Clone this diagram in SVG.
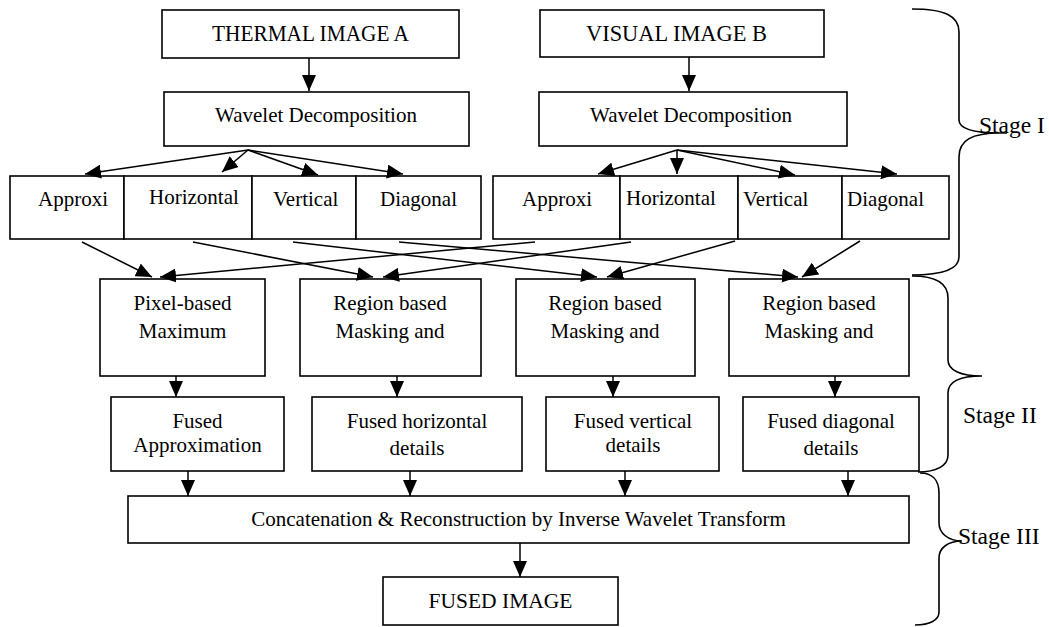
<svg xmlns="http://www.w3.org/2000/svg" width="1049" height="627" viewBox="0 0 1049 627">
<style>
rect{fill:#fff;stroke:#000;stroke-width:1.6}
text{font-family:"Liberation Serif","Times New Roman",serif;font-size:21px;fill:#000}
.c{text-anchor:middle}
.big{font-size:23px}
.st{font-size:23.5px}
.cn line{stroke:#000;stroke-width:1.5;marker-end:url(#ah)}
.br path{fill:none;stroke:#000;stroke-width:1.6}
</style>
<defs>
<marker id="ah" markerUnits="userSpaceOnUse" markerWidth="16" markerHeight="14" refX="16" refY="7" orient="auto"><path d="M0,0 L16,7 L0,14 z" fill="#000"/></marker>
</defs>
<rect x="0" y="0" width="1049" height="627" style="stroke:none"/>
<g id="thermal"><rect x="162" y="10" width="297" height="48"/><text class="big" x="212" y="41" textLength="197" lengthAdjust="spacingAndGlyphs">THERMAL IMAGE A</text></g>
<g id="visual"><rect x="540" y="10" width="284" height="47"/><text class="big" x="586" y="41" textLength="181" lengthAdjust="spacingAndGlyphs">VISUAL IMAGE B</text></g>
<g id="waveA"><rect x="164" y="92" width="305" height="54"/><text class="c" x="316" y="122">Wavelet Decomposition</text></g>
<g id="waveB"><rect x="539" y="92" width="308" height="54"/><text class="c" x="691" y="122">Wavelet Decomposition</text></g>
<g id="approxA"><rect x="10" y="176" width="114" height="63"/><text x="38" y="206">Approxi</text></g>
<g id="horizA"><rect x="124" y="176" width="128" height="63"/><text x="149" y="204">Horizontal</text></g>
<g id="vertA"><rect x="252" y="176" width="104" height="63"/><text x="273" y="206">Vertical</text></g>
<g id="diagA"><rect x="356" y="176" width="125" height="63"/><text x="380" y="206">Diagonal</text></g>
<g id="approxB"><rect x="493" y="176" width="127" height="63"/><text x="522" y="206">Approxi</text></g>
<g id="horizB"><rect x="620" y="176" width="118" height="63"/><text x="626" y="205">Horizontal</text></g>
<g id="vertB"><rect x="738" y="176" width="104" height="63"/><text x="743" y="206">Vertical</text></g>
<g id="diagB"><rect x="842" y="176" width="107" height="63"/><text x="847" y="206">Diagonal</text></g>
<g id="pixel"><rect x="100" y="279" width="165" height="97"/><text class="c" x="182.5" y="310">Pixel-based</text><text class="c" x="182.5" y="338">Maximum</text></g>
<g id="region1"><rect x="300" y="279" width="181" height="97"/><text class="c" x="390" y="310">Region based</text><text class="c" x="390" y="338">Masking and</text></g>
<g id="region2"><rect x="516" y="279" width="179" height="97"/><text class="c" x="605" y="310">Region based</text><text class="c" x="605" y="338">Masking and</text></g>
<g id="region3"><rect x="729" y="279" width="180" height="97"/><text class="c" x="819" y="310">Region based</text><text class="c" x="819" y="338">Masking and</text></g>
<g id="fusedA"><rect x="111" y="397" width="173" height="74"/><text class="c" x="197.5" y="428">Fused</text><text class="c" x="197.5" y="452">Approximation</text></g>
<g id="fusedH"><rect x="312" y="397" width="210" height="74"/><text class="c" x="417" y="428">Fused horizontal</text><text class="c" x="417" y="455">details</text></g>
<g id="fusedV"><rect x="546" y="397" width="173" height="74"/><text class="c" x="633" y="428">Fused vertical</text><text class="c" x="633" y="452">details</text></g>
<g id="fusedD"><rect x="743" y="397" width="176" height="74"/><text class="c" x="831" y="428">Fused diagonal</text><text class="c" x="831" y="455">details</text></g>
<g id="concat"><rect x="128" y="496" width="781" height="47"/><text class="c" x="518.5" y="526">Concatenation &amp; Reconstruction by Inverse Wavelet Transform</text></g>
<g id="fused"><rect x="383" y="577" width="235" height="48"/><text class="c" x="500.5" y="608" style="font-size:21.5px">FUSED IMAGE</text></g>
<g id="connectors" class="cn">
<line x1="309" y1="58" x2="309" y2="91"/>
<line x1="689" y1="57" x2="689" y2="91"/>
<line x1="248" y1="150" x2="85" y2="174"/>
<line x1="248" y1="150" x2="222" y2="172"/>
<line x1="248" y1="150" x2="318" y2="175"/>
<line x1="248" y1="150" x2="403" y2="174"/>
<line x1="677" y1="150" x2="598" y2="174"/>
<line x1="677" y1="150" x2="677" y2="174"/>
<line x1="677" y1="150" x2="795" y2="175"/>
<line x1="677" y1="150" x2="897" y2="174"/>
<line x1="82" y1="242" x2="152" y2="277"/>
<line x1="535" y1="242" x2="160" y2="277"/>
<line x1="193" y1="242" x2="373" y2="277"/>
<line x1="631" y1="242" x2="383" y2="277"/>
<line x1="293" y1="242" x2="597" y2="277"/>
<line x1="735" y1="241" x2="607" y2="277"/>
<line x1="399" y1="242" x2="798" y2="277"/>
<line x1="860" y1="241" x2="802" y2="277"/>
<line x1="176" y1="376" x2="176" y2="397"/>
<line x1="397" y1="376" x2="397" y2="397"/>
<line x1="613" y1="376" x2="613" y2="397"/>
<line x1="835" y1="376" x2="835" y2="397"/>
<line x1="188" y1="471" x2="188" y2="496"/>
<line x1="410" y1="471" x2="410" y2="496"/>
<line x1="625" y1="471" x2="625" y2="496"/>
<line x1="848" y1="471" x2="848" y2="496"/>
<line x1="520" y1="543" x2="520" y2="577"/>
</g>
<g id="braces" class="br">
<path d="M912,9 C945,9 959,16 959,32 L959,120 C959,129 972,133 1000,133 L1007,133 M1000,133 C972,133 959,140 959,157 L959,257 C959,268 945,275 912,275"/>
<path d="M912,276 C936,276 948,284 948,298 L948,360 C948,370 960,376 982,376 M982,376 C960,376 948,382 948,393 L948,455 C948,466 936,472 918,472"/>
<path d="M920,473 C932,473 939,480 939,493 L939,523 C939,533 948,541 962,541 M962,541 C948,541 939,548 939,558 L939,612 C939,620 930,625 915,625"/>
</g>
<g id="labels">
<text class="st" x="979" y="133">Stage I</text>
<text class="st" x="963" y="423">Stage II</text>
<text class="st" x="958" y="544">Stage III</text>
</g>
</svg>
